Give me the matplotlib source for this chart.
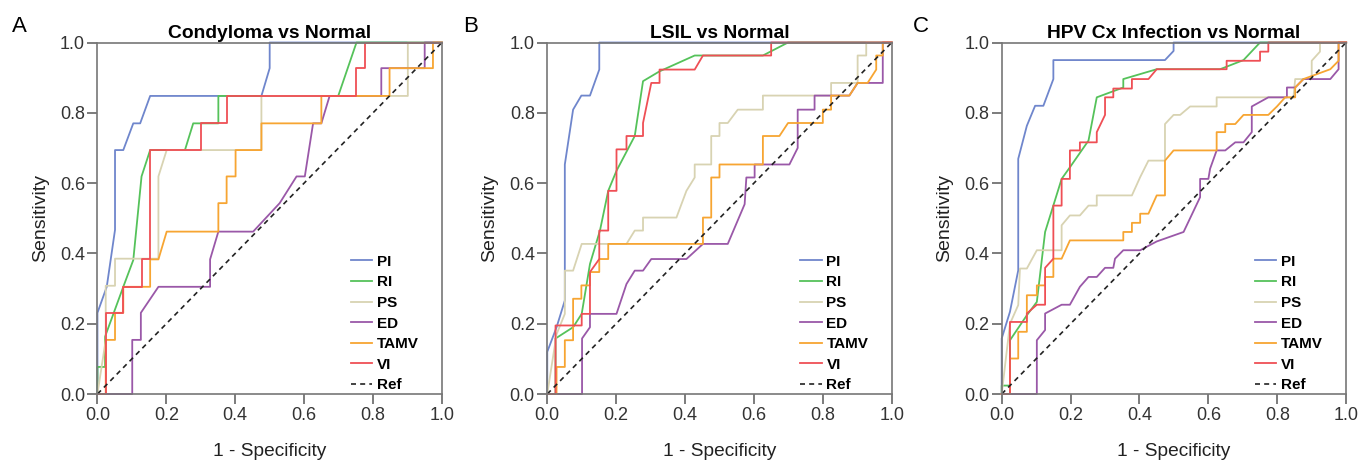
import matplotlib
matplotlib.use('Agg')
import matplotlib.pyplot as plt

plt.rcParams['font.family'] = ['Liberation Sans', 'DejaVu Sans']

# =============================================================================
#     ROC points (1 - specificity, sensitivity)
# =============================================================================

series_names = ['PI', 'RI', 'PS', 'ED', 'TAMV', 'VI']
series_colors = ['#6f86cc', '#55c25a', '#d8d3b2', '#9a58a8', '#f7a532', '#ef4f55']
panel_letters = ['A', 'B', 'C']
panel_titles = ['Condyloma vs Normal', 'LSIL vs Normal', 'HPV Cx Infection vs Normal']

# --- A: Condyloma vs Normal
a_pi = [(0, 0), (0, 0.231), (0.027, 0.305), (0.051, 0.467), (0.051, 0.694), (0.075, 0.694),
        (0.104, 0.770), (0.124, 0.770), (0.153, 0.848), (0.476, 0.848), (0.5, 0.927),
        (0.5, 1), (1, 1)]
a_ri = [(0, 0), (0, 0.077), (0.022, 0.077), (0.022, 0.163), (0.075, 0.305), (0.104, 0.381),
        (0.128, 0.619), (0.153, 0.694), (0.254, 0.694), (0.278, 0.770), (0.351, 0.770),
        (0.351, 0.848), (0.699, 0.848), (0.752, 1), (1, 1)]
a_ps = [(0, 0), (0.024, 0.154), (0.024, 0.308), (0.051, 0.308), (0.051, 0.385), (0.177, 0.385),
        (0.177, 0.619), (0.201, 0.694), (0.476, 0.694), (0.476, 0.848), (0.901, 0.848),
        (0.901, 1), (1, 1)]
a_ed = [(0, 0), (0.101, 0), (0.101, 0.154), (0.126, 0.154), (0.126, 0.231), (0.177, 0.305),
        (0.327, 0.305), (0.327, 0.383), (0.351, 0.462), (0.452, 0.462), (0.529, 0.543),
        (0.578, 0.619), (0.602, 0.619), (0.626, 0.770), (0.650, 0.770), (0.674, 0.848),
        (0.824, 0.848), (0.824, 0.927), (0.95, 0.927), (0.95, 1), (1, 1)]
a_tamv = [(0, 0), (0.024, 0), (0.024, 0.154), (0.051, 0.154), (0.051, 0.231), (0.075, 0.231),
          (0.075, 0.305), (0.153, 0.305), (0.153, 0.383), (0.177, 0.383), (0.201, 0.462),
          (0.351, 0.462), (0.351, 0.543), (0.375, 0.543), (0.375, 0.619), (0.401, 0.619),
          (0.401, 0.694), (0.476, 0.694), (0.476, 0.770), (0.650, 0.770), (0.650, 0.848),
          (0.848, 0.848), (0.848, 0.927), (0.974, 0.927), (0.974, 1), (1, 1)]
a_vi = [(0, 0), (0.024, 0), (0.024, 0.231), (0.075, 0.231), (0.075, 0.305), (0.128, 0.305),
        (0.128, 0.383), (0.153, 0.383), (0.153, 0.694), (0.302, 0.694), (0.302, 0.770),
        (0.375, 0.770), (0.375, 0.848), (0.752, 0.848), (0.752, 0.927), (0.776, 0.927),
        (0.776, 1), (1, 1)]

# --- B: LSIL vs Normal
b_pi = [(0, 0), (0, 0.12), (0.027, 0.19), (0.051, 0.266), (0.051, 0.653), (0.075, 0.809),
        (0.099, 0.849), (0.124, 0.849), (0.151, 0.923), (0.151, 1), (1, 1)]
b_ri = [(0, 0), (0.024, 0), (0.024, 0.158), (0.075, 0.19), (0.1, 0.228), (0.124, 0.37),
        (0.153, 0.465), (0.177, 0.578), (0.201, 0.635), (0.254, 0.734), (0.278, 0.89),
        (0.326, 0.918), (0.428, 0.963), (0.626, 0.963), (0.699, 1), (1, 1)]
b_ps = [(0, 0), (0.027, 0.17), (0.051, 0.228), (0.051, 0.351), (0.075, 0.351), (0.1, 0.427),
        (0.23, 0.427), (0.254, 0.465), (0.278, 0.465), (0.278, 0.502), (0.375, 0.502),
        (0.404, 0.578), (0.428, 0.616), (0.428, 0.653), (0.476, 0.653), (0.476, 0.734),
        (0.5, 0.734), (0.5, 0.771), (0.524, 0.771), (0.553, 0.809), (0.626, 0.809),
        (0.626, 0.849), (0.824, 0.849), (0.824, 0.885), (0.901, 0.885), (0.901, 0.963),
        (0.926, 0.963), (0.926, 1), (1, 1)]
b_ed = [(0, 0), (0.101, 0), (0.101, 0.158), (0.124, 0.19), (0.124, 0.228), (0.201, 0.228),
        (0.23, 0.313), (0.254, 0.351), (0.278, 0.351), (0.302, 0.384), (0.404, 0.384),
        (0.452, 0.427), (0.524, 0.427), (0.573, 0.54), (0.578, 0.616), (0.602, 0.616),
        (0.602, 0.653), (0.703, 0.653), (0.727, 0.70), (0.727, 0.809), (0.776, 0.809),
        (0.776, 0.849), (0.877, 0.849), (0.901, 0.885), (0.974, 0.885), (0.974, 1), (1, 1)]
b_tamv = [(0, 0), (0.027, 0), (0.027, 0.077), (0.051, 0.077), (0.051, 0.153), (0.075, 0.153),
          (0.075, 0.271), (0.099, 0.271), (0.099, 0.309), (0.124, 0.309), (0.124, 0.347),
          (0.151, 0.347), (0.151, 0.384), (0.177, 0.384), (0.177, 0.427), (0.452, 0.427),
          (0.452, 0.502), (0.476, 0.502), (0.476, 0.616), (0.5, 0.616), (0.5, 0.653),
          (0.626, 0.653), (0.626, 0.734), (0.674, 0.734), (0.699, 0.771), (0.8, 0.771),
          (0.8, 0.809), (0.824, 0.809), (0.824, 0.849), (0.877, 0.849), (0.901, 0.885),
          (0.93, 0.885), (0.955, 0.923), (0.955, 0.963), (0.974, 0.963), (0.974, 1), (1, 1)]
b_vi = [(0, 0), (0.024, 0), (0.024, 0.195), (0.1, 0.195), (0.1, 0.228), (0.124, 0.228),
        (0.124, 0.347), (0.151, 0.384), (0.151, 0.465), (0.177, 0.465), (0.177, 0.578),
        (0.201, 0.578), (0.201, 0.696), (0.23, 0.696), (0.23, 0.734), (0.278, 0.734),
        (0.278, 0.771), (0.302, 0.885), (0.326, 0.885), (0.326, 0.923), (0.428, 0.923),
        (0.452, 0.963), (0.65, 0.963), (0.65, 1), (1, 1)]

# --- C: HPV Cx Infection vs Normal
c_pi = [(0, 0), (0, 0.158), (0.024, 0.234), (0.048, 0.352), (0.048, 0.669), (0.073, 0.763),
        (0.097, 0.82), (0.121, 0.82), (0.15, 0.896), (0.15, 0.95), (0.474, 0.95),
        (0.499, 0.976), (0.499, 1), (1, 1)]
c_ri = [(0, 0), (0, 0.024), (0.024, 0.024), (0.024, 0.153), (0.073, 0.224), (0.102, 0.262),
        (0.126, 0.461), (0.174, 0.612), (0.198, 0.645), (0.252, 0.721), (0.276, 0.844),
        (0.353, 0.872), (0.353, 0.896), (0.45, 0.924), (0.634, 0.924), (0.702, 0.95),
        (0.75, 1), (1, 1)]
c_ps = [(0, 0), (0.024, 0.2), (0.048, 0.253), (0.053, 0.357), (0.073, 0.357), (0.102, 0.409),
        (0.174, 0.409), (0.174, 0.48), (0.198, 0.508), (0.227, 0.508), (0.252, 0.536),
        (0.276, 0.536), (0.276, 0.565), (0.378, 0.565), (0.402, 0.617), (0.426, 0.664),
        (0.474, 0.664), (0.474, 0.768), (0.499, 0.794), (0.518, 0.794), (0.547, 0.818),
        (0.624, 0.818), (0.624, 0.844), (0.847, 0.844), (0.852, 0.896), (0.9, 0.896),
        (0.9, 0.948), (0.924, 0.974), (0.924, 1), (1, 1)]
c_ed = [(0, 0), (0.102, 0), (0.102, 0.153), (0.126, 0.182), (0.126, 0.229), (0.174, 0.254),
        (0.198, 0.254), (0.227, 0.305), (0.252, 0.333), (0.276, 0.333), (0.3, 0.359),
        (0.324, 0.359), (0.329, 0.385), (0.353, 0.409), (0.402, 0.409), (0.45, 0.434),
        (0.528, 0.461), (0.576, 0.56), (0.576, 0.612), (0.6, 0.612), (0.605, 0.641),
        (0.624, 0.693), (0.649, 0.693), (0.678, 0.716), (0.702, 0.716), (0.726, 0.745),
        (0.726, 0.818), (0.774, 0.844), (0.828, 0.844), (0.828, 0.872), (0.852, 0.872),
        (0.876, 0.896), (0.954, 0.896), (0.978, 0.924), (0.978, 1), (1, 1)]
c_tamv = [(0, 0), (0.024, 0), (0.024, 0.101), (0.048, 0.101), (0.048, 0.177), (0.073, 0.177),
          (0.073, 0.281), (0.102, 0.281), (0.102, 0.309), (0.126, 0.309), (0.126, 0.333),
          (0.15, 0.333), (0.15, 0.385), (0.174, 0.385), (0.198, 0.437), (0.353, 0.437),
          (0.353, 0.461), (0.378, 0.461), (0.378, 0.487), (0.402, 0.487), (0.402, 0.513),
          (0.426, 0.513), (0.45, 0.565), (0.474, 0.565), (0.474, 0.664), (0.499, 0.693),
          (0.624, 0.693), (0.624, 0.745), (0.649, 0.745), (0.649, 0.768), (0.678, 0.768),
          (0.702, 0.794), (0.774, 0.794), (0.799, 0.818), (0.823, 0.844), (0.852, 0.844),
          (0.852, 0.872), (0.876, 0.896), (0.954, 0.924), (0.978, 0.948), (0.978, 1), (1, 1)]
c_vi = [(0, 0), (0.024, 0), (0.024, 0.205), (0.073, 0.205), (0.073, 0.229), (0.102, 0.254),
        (0.126, 0.254), (0.126, 0.359), (0.15, 0.385), (0.15, 0.536), (0.174, 0.536),
        (0.174, 0.612), (0.198, 0.612), (0.198, 0.693), (0.227, 0.693), (0.227, 0.716),
        (0.276, 0.716), (0.276, 0.745), (0.3, 0.794), (0.3, 0.844), (0.324, 0.844),
        (0.324, 0.869), (0.378, 0.869), (0.378, 0.896), (0.426, 0.896), (0.45, 0.924),
        (0.653, 0.924), (0.653, 0.948), (0.75, 0.948), (0.75, 0.974), (0.774, 0.974),
        (0.774, 1), (1, 1)]

panel_curves = [
    [a_pi, a_ri, a_ps, a_ed, a_tamv, a_vi],
    [b_pi, b_ri, b_ps, b_ed, b_tamv, b_vi],
    [c_pi, c_ri, c_ps, c_ed, c_tamv, c_vi],
]

ticks = [0.0, 0.2, 0.4, 0.6, 0.8, 1.0]

# =============================================================================
#     Figure
# =============================================================================

fig = plt.figure(figsize=(13.61, 4.61), dpi=100)
ax_lefts = [0.0716, 0.4021, 0.7360]
ax_w, ax_h, ax_b = 0.2531, 0.7625, 0.1453
letter_x = [0.009, 0.340, 0.671]

for i in range(3):
    ax = fig.add_axes([ax_lefts[i], ax_b, ax_w, ax_h])
    for pts, name, col in zip(panel_curves[i], series_names, series_colors):
        xs = [p[0] for p in pts]
        ys = [p[1] for p in pts]
        ax.plot(xs, ys, color=col, lw=1.3, label=name, clip_on=False)
    ax.plot([0, 1], [0, 1], color='#222222', lw=1.2, ls=(0, (3, 2.5)), label='Ref')

    ax.set_xlim(0, 1)
    ax.set_ylim(0, 1)
    ax.set_xticks(ticks)
    ax.set_yticks(ticks)
    ax.set_xticklabels(['%.1f' % t for t in ticks])
    ax.set_yticklabels(['%.1f' % t for t in ticks])
    ax.tick_params(direction='out', length=7, width=1.2, color='#666666',
                   labelsize=13, labelcolor='#333333', pad=2)
    for s in ax.spines.values():
        s.set_color('#777777')
        s.set_linewidth(1.2)

    ax.set_xlabel('1 - Specificity', fontsize=13.8, color='#222222', labelpad=14)
    ax.set_ylabel('Sensitivity', fontsize=14, color='#222222', labelpad=8)
    ax.set_title(panel_titles[i], fontsize=13.9, fontweight='bold', pad=3)

    ax.legend(loc='lower left', frameon=False, handlelength=1.4,
              handletextpad=0.3, labelspacing=0.43, borderpad=0, borderaxespad=0,
              bbox_to_anchor=(0.735, 0.005), prop={'size': 11, 'weight': 'bold'})

    fig.text(letter_x[i], 0.965, panel_letters[i], fontsize=16, ha='left', va='top')

plt.savefig('out.png', dpi=100)
